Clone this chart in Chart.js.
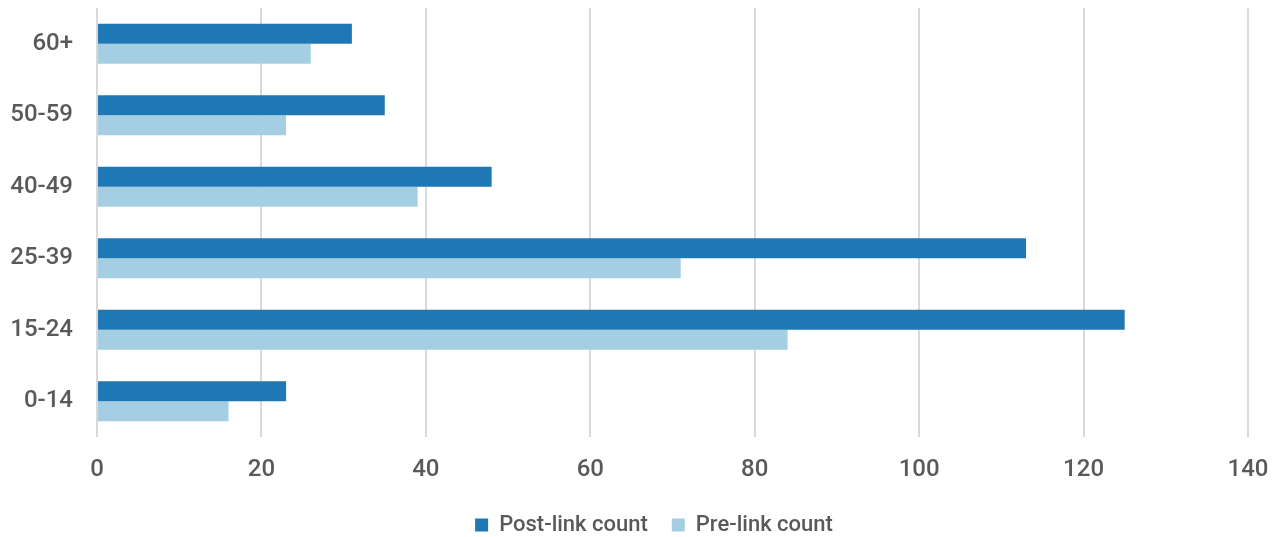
<!DOCTYPE html>
<html>
<head>
<meta charset="utf-8">
<script src="https://cdn.jsdelivr.net/npm/chart.js@4/dist/chart.umd.min.js"></script>
<style>
  html, body { margin: 0; padding: 0; background: #ffffff; }
  #wrap { width: 1282px; height: 537px; position: relative; }
</style>
</head>
<body>
<div id="wrap"><canvas id="chart"></canvas></div>
<script>
// Age groups, top to bottom
const ageGroups = ['60+', '50-59', '40-49', '25-39', '15-24', '0-14'];
// Counts per age group
const postLinkCounts = [31, 35, 48, 113, 125, 23];
const preLinkCounts = [26, 23, 39, 71, 84, 16];
// Value axis ticks
const xTicks = [0, 20, 40, 60, 80, 100, 120, 140];

const FONT = 'Roboto, "Noto Sans", sans-serif';
const TEXT = '#595959';
const GRID = '#d9d9d9';

new Chart(document.getElementById('chart'), {
  type: 'bar',
  data: {
    labels: ageGroups,
    datasets: [
      { label: 'Post-link count', data: postLinkCounts, backgroundColor: '#1f77b4',
        categoryPercentage: 0.56, barPercentage: 1.0 },
      { label: 'Pre-link count', data: preLinkCounts, backgroundColor: '#a6cee3',
        categoryPercentage: 0.56, barPercentage: 1.0 }
    ]
  },
  options: {
    indexAxis: 'y',
    responsive: true,
    maintainAspectRatio: false,
    animation: false,
    // the negative right inset only nudges the centred legend; the plot edge is set by the x axis
    layout: { padding: { top: 8, right: -26, bottom: -9, left: 0 } },
    scales: {
      x: {
        min: xTicks[0],
        max: xTicks[xTicks.length - 1],
        afterBuildTicks: (axis) => { axis.ticks = xTicks.map(v => ({ value: v })); },
        grid: { color: GRID, lineWidth: 2, drawTicks: false },
        border: { display: false },
        ticks: { color: TEXT, font: { family: FONT, size: 24, weight: '500' }, padding: 19,
          maxRotation: 0 },
        afterFit: (axis) => {
          axis.height = 53;
          axis.paddingLeft = 0;
          axis.paddingRight = 34;
        }
      },
      y: {
        grid: { display: false, drawTicks: true, tickLength: 24 },
        border: { display: false },
        ticks: { color: TEXT, font: { family: FONT, size: 24, weight: '500' }, padding: 0 },
        afterFit: (axis) => {
          axis.width = 97;
          axis.paddingTop = 0;
          axis.paddingBottom = 0;
        }
      }
    },
    plugins: {
      legend: {
        position: 'bottom',
        labels: { color: TEXT, font: { family: FONT, size: 22, weight: '500' },
          boxWidth: 13, boxHeight: 13, padding: 24 }
      },
      tooltip: { enabled: false }
    }
  }
});
</script>
</body>
</html>
